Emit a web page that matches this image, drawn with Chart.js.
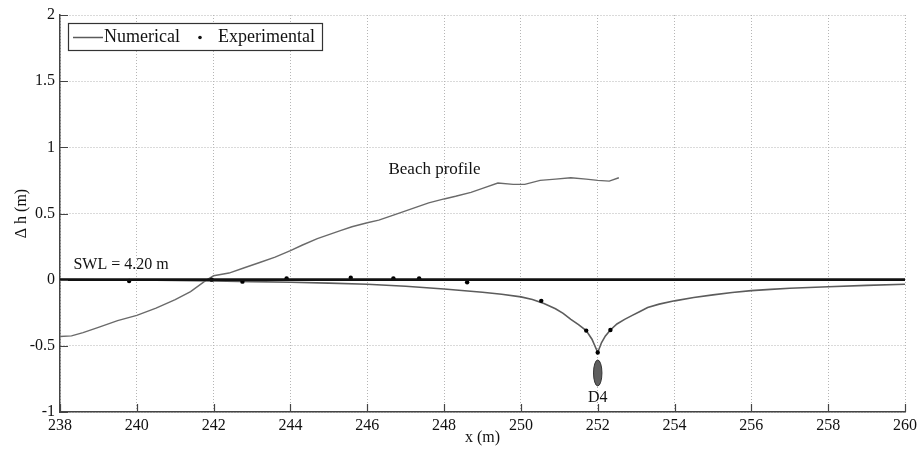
<!DOCTYPE html>
<html>
<head>
<meta charset="utf-8">
<script src="https://cdn.jsdelivr.net/npm/chart.js@4.4.1/dist/chart.umd.min.js"></script>
<style>
  html, body { margin: 0; padding: 0; background: #ffffff; }
  #wrap { width: 921px; height: 451px; }
</style>
</head>
<body>
<div id="wrap"><canvas id="c" width="921" height="451"></canvas></div>
<script>
// Axis ticks
const xTicks = [238, 240, 242, 244, 246, 248, 250, 252, 254, 256, 258, 260];
const yTicks = [-1, -0.5, 0, 0.5, 1, 1.5, 2];

// Beach profile (bed elevation relative to SWL)
const profileX = [238.0, 238.3, 238.6, 239.0, 239.5, 240.0, 240.5, 241.0, 241.4, 241.8, 242.0, 242.4, 242.8, 243.2, 243.6, 244.0, 244.3, 244.7, 245.0, 245.3, 245.6, 246.0, 246.3, 246.7, 247.0, 247.3, 247.6, 248.0, 248.3, 248.7, 249.0, 249.4, 249.8, 250.1, 250.5, 250.9, 251.3, 251.7, 252.0, 252.3, 252.55];
const profileY = [-0.43, -0.425, -0.40, -0.36, -0.31, -0.27, -0.215, -0.15, -0.09, -0.005, 0.03, 0.05, 0.09, 0.13, 0.17, 0.22, 0.26, 0.31, 0.34, 0.37, 0.40, 0.43, 0.45, 0.49, 0.52, 0.55, 0.58, 0.61, 0.63, 0.66, 0.69, 0.73, 0.72, 0.72, 0.75, 0.76, 0.77, 0.76, 0.75, 0.745, 0.77];

// Numerical water-level change
const numX = [238, 240, 241, 242, 243, 244, 245, 246, 247, 248, 249, 249.5, 250, 250.3, 250.6, 250.9, 251.1, 251.3, 251.5, 251.7, 251.85, 252.0, 252.1, 252.2, 252.33, 252.5, 252.7, 252.9, 253.1, 253.3, 253.6, 254.0, 254.5, 255, 255.5, 256, 256.5, 257, 258, 259, 260];
const numY = [0.0, -0.003, -0.006, -0.01, -0.015, -0.02, -0.026, -0.035, -0.05, -0.07, -0.095, -0.11, -0.13, -0.15, -0.18, -0.22, -0.255, -0.30, -0.34, -0.385, -0.45, -0.55, -0.475, -0.425, -0.38, -0.335, -0.30, -0.27, -0.24, -0.21, -0.185, -0.16, -0.135, -0.115, -0.097, -0.083, -0.073, -0.065, -0.053, -0.043, -0.035];

// Experimental measurements
const expX = [239.8, 241.95, 242.75, 243.9, 245.57, 246.68, 247.35, 248.6, 250.53, 251.7, 252.0, 252.33];
const expY = [-0.01, 0.0, -0.015, 0.01, 0.015, 0.01, 0.01, -0.02, -0.16, -0.385, -0.55, -0.38];

// Still water level
const swlX = [238, 260];
const swlY = [0, 0];

// Gauge position marker
const gaugeX = [252];
const gaugeY = [-0.705];
const gaugeNames = ['D4'];

// Text annotations placed in data coordinates
const noteText = ['Beach profile', 'SWL = 4.20 m'];
const noteX = [247.75, 238.35];
const noteY = [0.83, 0.11];
const noteAlign = ['center', 'left'];

const toPts = (xs, ys) => xs.map((x, i) => ({ x: x, y: ys[i] }));

const SERIF = '"Liberation Serif", "DejaVu Serif", serif';
const INK = '#111111';
const AXIS = '#444444';

// Inward tick marks on the left and bottom axes
const inwardTicks = {
  id: 'inwardTicks',
  afterDatasetsDraw(chart) {
    const { ctx, chartArea, scales } = chart;
    ctx.save();
    ctx.strokeStyle = AXIS;
    ctx.lineWidth = 1.2;
    ctx.beginPath();
    xTicks.forEach(v => {
      const px = Math.round(scales.x.getPixelForValue(v)) + 0.5;
      ctx.moveTo(px, chartArea.bottom);
      ctx.lineTo(px, chartArea.bottom - 8);
    });
    yTicks.forEach(v => {
      const py = Math.round(scales.y.getPixelForValue(v)) + 0.5;
      ctx.moveTo(chartArea.left, py);
      ctx.lineTo(chartArea.left + 8, py);
    });
    ctx.stroke();
    ctx.restore();
  }
};

// Gauge ellipse, its label and the text notes
const notes = {
  id: 'notes',
  afterDatasetsDraw(chart) {
    const { ctx, scales } = chart;
    ctx.save();
    gaugeX.forEach((gx, i) => {
      const px = scales.x.getPixelForValue(gx);
      const py = scales.y.getPixelForValue(gaugeY[i]);
      ctx.beginPath();
      ctx.ellipse(px, py, 4.2, 13, 0, 0, Math.PI * 2);
      ctx.fillStyle = '#5f5f5f';
      ctx.fill();
      ctx.strokeStyle = '#333333';
      ctx.lineWidth = 1;
      ctx.stroke();
      ctx.fillStyle = INK;
      ctx.font = '16px ' + SERIF;
      ctx.textAlign = 'center';
      ctx.textBaseline = 'middle';
      ctx.fillText(gaugeNames[i], px, py + 25);
    });
    ctx.fillStyle = INK;
    ctx.textBaseline = 'middle';
    noteText.forEach((t, i) => {
      ctx.font = (i === 0 ? '17px ' : '16px ') + SERIF;
      ctx.textAlign = noteAlign[i];
      ctx.fillText(t, scales.x.getPixelForValue(noteX[i]), scales.y.getPixelForValue(noteY[i]));
    });
    ctx.restore();
  }
};

// Boxed legend in the upper-left corner of the plot
const boxLegend = {
  id: 'boxLegend',
  afterDraw(chart) {
    const { ctx, chartArea } = chart;
    const x0 = chartArea.left + 8, y0 = chartArea.top + 8, w = 254, h = 27;
    ctx.save();
    ctx.fillStyle = '#ffffff';
    ctx.fillRect(x0, y0, w, h);
    ctx.strokeStyle = '#333333';
    ctx.lineWidth = 1.2;
    ctx.strokeRect(x0 + 0.5, y0 + 0.5, w, h);
    const cy = y0 + h / 2 + 1;
    ctx.strokeStyle = '#5a5a5a';
    ctx.lineWidth = 1.5;
    ctx.beginPath();
    ctx.moveTo(x0 + 5, cy);
    ctx.lineTo(x0 + 35, cy);
    ctx.stroke();
    ctx.font = '18px ' + SERIF;
    ctx.fillStyle = INK;
    ctx.textAlign = 'left';
    ctx.textBaseline = 'middle';
    ctx.fillText('Numerical', x0 + 36, cy);
    ctx.beginPath();
    ctx.arc(x0 + 132, cy, 1.8, 0, Math.PI * 2);
    ctx.fill();
    ctx.fillText('Experimental', x0 + 150, cy);
    ctx.restore();
  }
};

new Chart(document.getElementById('c'), {
  type: 'scatter',
  data: {
    datasets: [
      {
        label: 'SWL',
        data: toPts(swlX, swlY),
        showLine: true,
        borderColor: '#111111',
        borderWidth: 2.6,
        pointRadius: 0,
        order: 0
      },
      {
        label: 'Experimental',
        data: toPts(expX, expY),
        showLine: false,
        pointRadius: 2.2,
        pointBackgroundColor: '#000000',
        pointBorderWidth: 0,
        order: 1
      },
      {
        label: 'Numerical',
        data: toPts(numX, numY),
        showLine: true,
        borderColor: '#5c5c5c',
        borderWidth: 1.6,
        pointRadius: 0,
        tension: 0,
        order: 2
      },
      {
        label: 'Beach profile',
        data: toPts(profileX, profileY),
        showLine: true,
        borderColor: '#6a6a6a',
        borderWidth: 1.4,
        pointRadius: 0,
        tension: 0,
        order: 3
      }
    ]
  },
  options: {
    responsive: false,
    animation: false,
    devicePixelRatio: 1,
    layout: { padding: { left: 0, right: 14, top: 15, bottom: 0 } },
    plugins: {
      legend: { display: false },
      tooltip: { enabled: false }
    },
    scales: {
      x: {
        type: 'linear',
        min: 238,
        max: 260,
        afterBuildTicks: s => { s.ticks = xTicks.map(v => ({ value: v })); },
        afterFit: s => { s.height = 39; },
        grid: { color: '#b5b5b5', lineWidth: 1, drawTicks: false },
        border: { display: true, color: AXIS, width: 1.5, dash: [1, 2] },
        ticks: { color: INK, font: { family: SERIF, size: 16 }, padding: 4, maxRotation: 0, autoSkip: false, callback: v => String(v) },
        title: { display: true, text: 'x (m)', color: INK, font: { family: SERIF, size: 16 }, padding: { top: 0, bottom: 4 } }
      },
      y: {
        type: 'linear',
        min: -1,
        max: 2,
        afterBuildTicks: s => { s.ticks = yTicks.map(v => ({ value: v })); },
        afterFit: s => { s.width = 60; },
        grid: { color: '#b5b5b5', lineWidth: 1, drawTicks: false },
        border: { display: true, color: AXIS, width: 1.5, dash: [1, 2] },
        ticks: { color: INK, font: { family: SERIF, size: 16 }, padding: 5, autoSkip: false, callback: v => String(v) },
        title: { display: true, text: 'Δ h (m)', color: INK, font: { family: SERIF, size: 16 }, padding: { top: 12, bottom: 0 } }
      }
    }
  },
  plugins: [inwardTicks, notes, boxLegend]
});
</script>
</body>
</html>
